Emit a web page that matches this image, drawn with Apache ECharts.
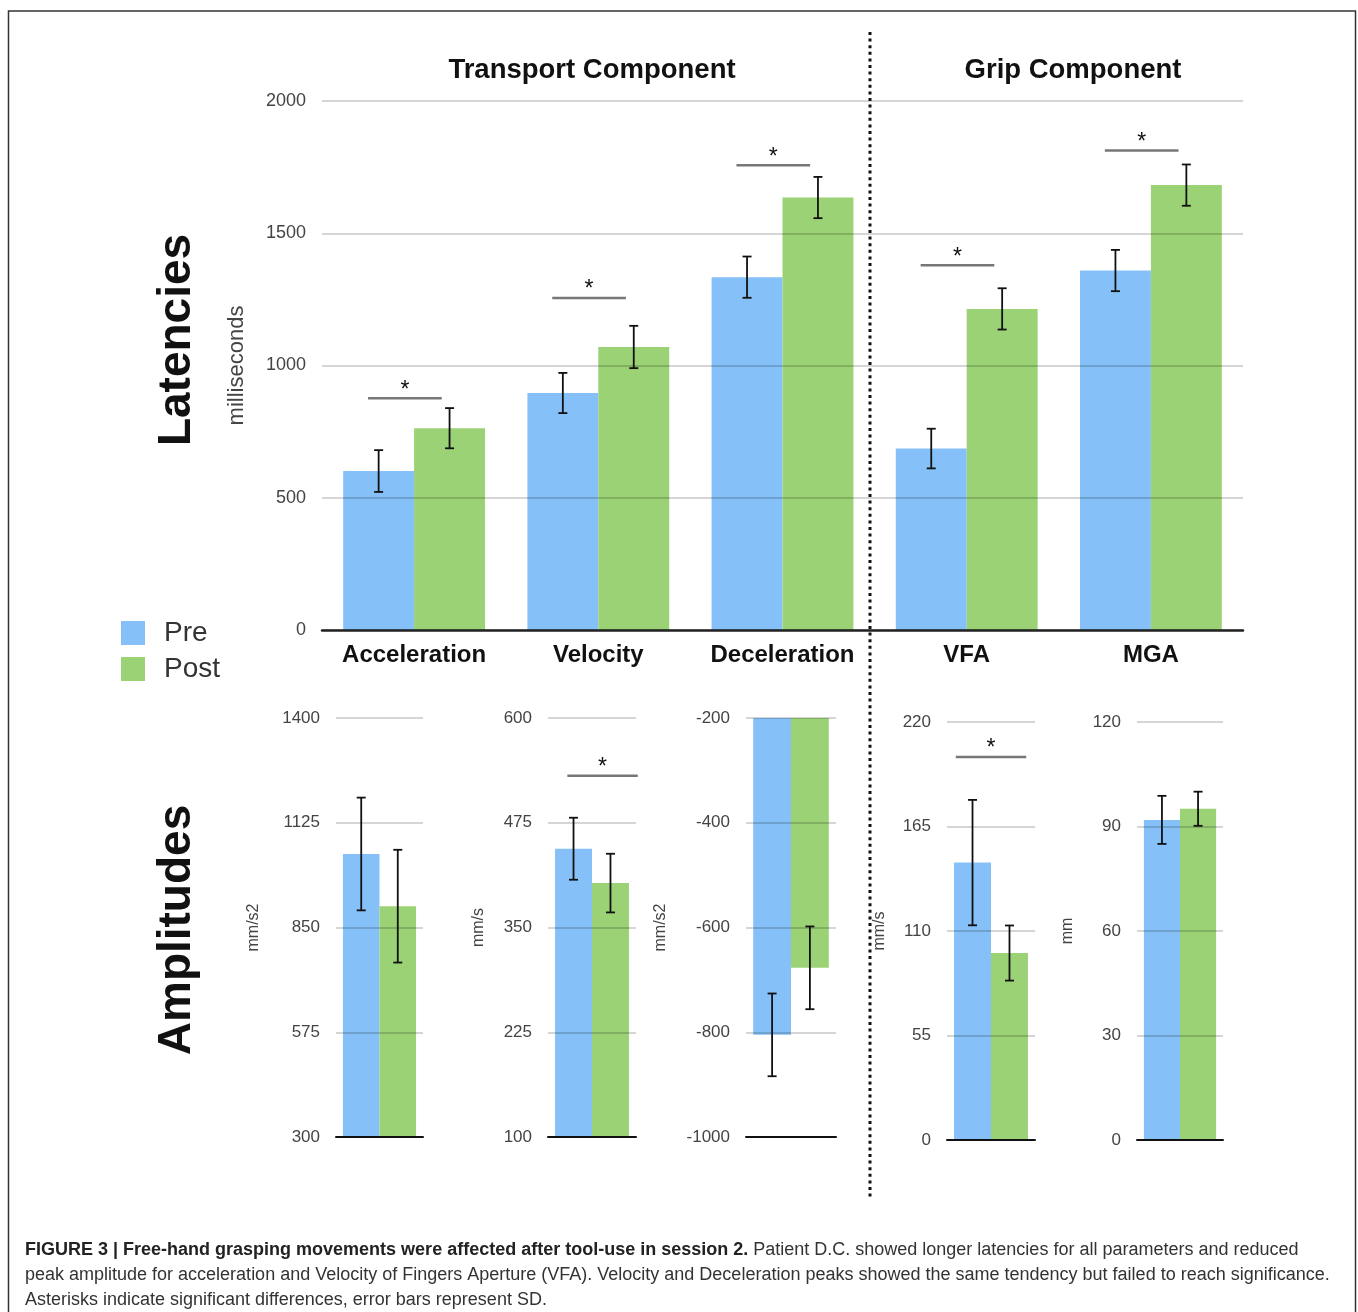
<!DOCTYPE html>
<html><head><meta charset="utf-8">
<script src="https://cdn.jsdelivr.net/npm/echarts@6/dist/echarts.min.js"></script>
<style>html,body{margin:0;padding:0;background:#fff}#c{width:1358px;height:1312px}</style>
</head><body><div id="c"></div>
<script>
// ---------- DATA ----------
const seriesNames = ['Pre', 'Post'];
const latCategories = ['Acceleration', 'Velocity', 'Deceleration', 'VFA', 'MGA'];
const latPre = [601, 896, 1334, 686, 1359];
const latPreSD = [79, 76, 78, 75, 78];
const latPost = [763, 1070, 1635, 1214, 1682];
const latPostSD = [76, 80, 78, 78, 78];
const latSigLevel = [876, 1255, 1757, 1379, 1813];
const latMin = 0, latMax = 2000, latInterval = 500;

const ampUnits = ['mm/s2', 'mm/s', 'mm/s2', 'mm/s', 'mm'];
const ampMin = [300, 100, -1000, 0, 0];
const ampMax = [1400, 600, -200, 220, 120];
const ampInterval = [275, 125, 200, 55, 30];
const ampPre = [1043, 444, -805, 146, 91.9];
const ampPreSD = [148, 37, 79, 33, 6.9];
const ampPost = [906, 403, -677, 98.4, 95.1];
const ampPostSD = [148, 35, 79, 14.5, 4.9];
const ampSigLevel = [null, 531, null, 201.6, null];

const titleTexts = ['Transport Component', 'Grip Component'];
const rowTitles = ['Latencies', 'Amplitudes'];
const latUnit = 'milliseconds';
const captionBold = 'FIGURE 3 | Free-hand grasping movements were affected after tool-use in session 2.';
const captionLines = [
  ' Patient D.C. showed longer latencies for all parameters and reduced',
  'peak amplitude for acceleration and Velocity of Fingers Aperture (VFA). Velocity and Deceleration peaks showed the same tendency but failed to reach significance.',
  'Asterisks indicate significant differences, error bars represent SD.'
];

// ---------- LAYOUT / STYLE ----------
const FONT = '"Liberation Sans", Arial, Helvetica, sans-serif';
const BLUE = '#85c1f8', GREEN = '#9bd275';
const GRIDLINE = 'rgba(0,0,0,0.22)';
const topGrid = { left: 322, top: 101, width: 921, height: 529 };
const ampGrids = [
  { left: 336, top: 718, width: 87, height: 419 },
  { left: 548, top: 718, width: 88, height: 419 },
  { left: 746, top: 718, width: 90, height: 419 },
  { left: 947, top: 722, width: 88, height: 418 },
  { left: 1137, top: 722, width: 86, height: 418 }
];
const ampNameGap = [74, 61, 77, 59, 61];
const ampSigShift = [0, 0.12, 0, 0, 0];
const TOP_BW = 0.385, AMP_BW = 0.42;
const plainNum = v => String(v);

function errRender(bw) {
  return function (params, api) {
    const cat = api.value(0), lo = api.value(1), hi = api.value(2), side = api.value(3);
    const band = api.size([1, 0])[0];
    const a = api.coord([cat, lo]), b = api.coord([cat, hi]);
    const x = a[0] + side * band * bw / 2;
    const cap = 4.5, st = { stroke: '#111', lineWidth: 1.8 };
    return { type: 'group', children: [
      { type: 'line', shape: { x1: x, y1: a[1], x2: x, y2: b[1] }, style: st },
      { type: 'line', shape: { x1: x - cap, y1: a[1], x2: x + cap, y2: a[1] }, style: st },
      { type: 'line', shape: { x1: x - cap, y1: b[1], x2: x + cap, y2: b[1] }, style: st }
    ]};
  };
}
function sigRender(shift, half) {
  return function (params, api) {
    const cat = api.value(0), lv = api.value(1);
    const band = api.size([1, 0])[0];
    const p = api.coord([cat, lv]);
    const cx = p[0] + band * shift, w = band * half;
    return { type: 'group', children: [
      { type: 'line', shape: { x1: cx - w, y1: p[1], x2: cx + w, y2: p[1] }, style: { stroke: '#777', lineWidth: 2.6 } },
      { type: 'text', style: { text: '*', x: cx, y: p[1] - 8, fill: '#111', font: '23px ' + FONT, align: 'center', verticalAlign: 'middle' } }
    ]};
  };
}

const grids = [topGrid].concat(ampGrids);
const xAxes = [], yAxes = [], series = [];

xAxes.push({
  gridIndex: 0, type: 'category', data: latCategories,
  axisTick: { show: false },
  axisLine: { onZero: false, lineStyle: { color: '#222', width: 2.5 } },
  axisLabel: { interval: 0, color: '#111', fontSize: 24, fontWeight: 'bold', fontFamily: FONT, margin: 13 },
  z: 4
});
yAxes.push({
  gridIndex: 0, type: 'value', min: latMin, max: latMax, interval: latInterval,
  name: latUnit, nameLocation: 'middle', nameGap: 74,
  nameTextStyle: { color: '#444', fontSize: 22, fontFamily: FONT },
  axisLine: { show: false }, axisTick: { show: false },
  axisLabel: { color: '#444', fontSize: 18, fontFamily: FONT, margin: 16, formatter: plainNum },
  splitLine: { lineStyle: { color: GRIDLINE, width: 1.5 } },
  z: 3
});
series.push(
  { name: seriesNames[0], type: 'bar', xAxisIndex: 0, yAxisIndex: 0, data: latPre, barWidth: (TOP_BW * 100) + '%', barGap: '0%', itemStyle: { color: BLUE } },
  { name: seriesNames[1], type: 'bar', xAxisIndex: 0, yAxisIndex: 0, data: latPost, barWidth: (TOP_BW * 100) + '%', barGap: '0%', itemStyle: { color: GREEN } }
);
const latErr = [];
latCategories.forEach((c, i) => {
  latErr.push([i, latPre[i] - latPreSD[i], latPre[i] + latPreSD[i], -1]);
  latErr.push([i, latPost[i] - latPostSD[i], latPost[i] + latPostSD[i], 1]);
});
series.push({ type: 'custom', xAxisIndex: 0, yAxisIndex: 0, data: latErr, renderItem: errRender(TOP_BW), encode: { x: 0, y: [1, 2] }, z: 5, silent: true });
series.push({ type: 'custom', xAxisIndex: 0, yAxisIndex: 0, data: latSigLevel.map((v, i) => [i, v]), renderItem: sigRender(-0.05, 0.2), encode: { x: 0, y: 1 }, z: 5, silent: true });

ampUnits.forEach((u, k) => {
  const gi = k + 1;
  xAxes.push({
    gridIndex: gi, type: 'category', data: [latCategories[k]],
    axisTick: { show: false }, axisLabel: { show: false },
    axisLine: { onZero: false, lineStyle: { color: '#111', width: 2 } }, z: 4
  });
  yAxes.push({
    gridIndex: gi, type: 'value', min: ampMin[k], max: ampMax[k], interval: ampInterval[k],
    name: u, nameLocation: 'middle', nameGap: ampNameGap[k],
    nameTextStyle: { color: '#444', fontSize: 16, fontFamily: FONT },
    axisLine: { show: false }, axisTick: { show: false },
    axisLabel: { color: '#444', fontSize: 17, fontFamily: FONT, margin: 16, formatter: plainNum },
    splitLine: { lineStyle: { color: GRIDLINE, width: 1.5 } }, z: 3
  });
  series.push(
    { name: seriesNames[0], type: 'bar', xAxisIndex: gi, yAxisIndex: gi, data: [ampPre[k]], barWidth: (AMP_BW * 100) + '%', barGap: '0%', clip: true, itemStyle: { color: BLUE } },
    { name: seriesNames[1], type: 'bar', xAxisIndex: gi, yAxisIndex: gi, data: [ampPost[k]], barWidth: (AMP_BW * 100) + '%', barGap: '0%', clip: true, itemStyle: { color: GREEN } }
  );
  series.push({ type: 'custom', xAxisIndex: gi, yAxisIndex: gi, silent: true, z: 5, encode: { x: 0, y: [1, 2] },
    data: [[0, ampPre[k] - ampPreSD[k], ampPre[k] + ampPreSD[k], -1], [0, ampPost[k] - ampPostSD[k], ampPost[k] + ampPostSD[k], 1]],
    renderItem: errRender(AMP_BW) });
  if (ampSigLevel[k] != null) {
    series.push({ type: 'custom', xAxisIndex: gi, yAxisIndex: gi, silent: true, z: 5, encode: { x: 0, y: 1 },
      data: [[0, ampSigLevel[k]]], renderItem: sigRender(ampSigShift[k], 0.4) });
  }
});

const graphic = [
  { type: 'rect', shape: { x: 8.5, y: 11, width: 1347, height: 1320 }, style: { fill: 'none', stroke: '#333', lineWidth: 1.5 }, z: 0 },
  { type: 'line', shape: { x1: 870, y1: 32, x2: 870, y2: 1200 }, style: { stroke: '#111', lineWidth: 3, lineDash: [3, 3.6] }, z: 10 },
  { type: 'text', x: 592, y: 70, style: { text: titleTexts[0], font: 'bold 27.5px ' + FONT, fill: '#111', align: 'center', verticalAlign: 'middle' } },
  { type: 'text', x: 1073, y: 70, style: { text: titleTexts[1], font: 'bold 27.5px ' + FONT, fill: '#111', align: 'center', verticalAlign: 'middle' } },
  { type: 'text', x: 177, y: 340, rotation: Math.PI / 2, style: { text: rowTitles[0], font: 'bold 46px ' + FONT, fill: '#111', align: 'center', verticalAlign: 'middle' } },
  { type: 'text', x: 177, y: 930, rotation: Math.PI / 2, style: { text: rowTitles[1], font: 'bold 46px ' + FONT, fill: '#111', align: 'center', verticalAlign: 'middle' } },
  { type: 'text', x: 25, y: 1250, style: {
      text: '{b|' + captionBold + '}{n|' + captionLines[0] + '}', verticalAlign: 'middle',
      rich: { b: { font: 'bold 18px ' + FONT, fill: '#222' }, n: { font: '18px ' + FONT, fill: '#333' } } } },
  { type: 'text', x: 25, y: 1275, style: { text: captionLines[1], font: '18px ' + FONT, fill: '#333', verticalAlign: 'middle' } },
  { type: 'text', x: 25, y: 1300, style: { text: captionLines[2], font: '18px ' + FONT, fill: '#333', verticalAlign: 'middle' } }
];

const chart = echarts.init(document.getElementById('c'), null, { renderer: 'canvas' });
chart.setOption({
  backgroundColor: '#fff',
  animation: false,
  textStyle: { fontFamily: FONT },
  legend: {
    data: seriesNames, orient: 'vertical', left: 121, top: 619, padding: 0,
    itemWidth: 24, itemHeight: 24, itemGap: 8, icon: 'rect',
    textStyle: { fontSize: 28, color: '#333', fontFamily: FONT, padding: [0, 0, 0, 14] }
  },
  grid: grids,
  xAxis: xAxes,
  yAxis: yAxes,
  series: series,
  graphic: graphic
});
</script>
</body></html>
